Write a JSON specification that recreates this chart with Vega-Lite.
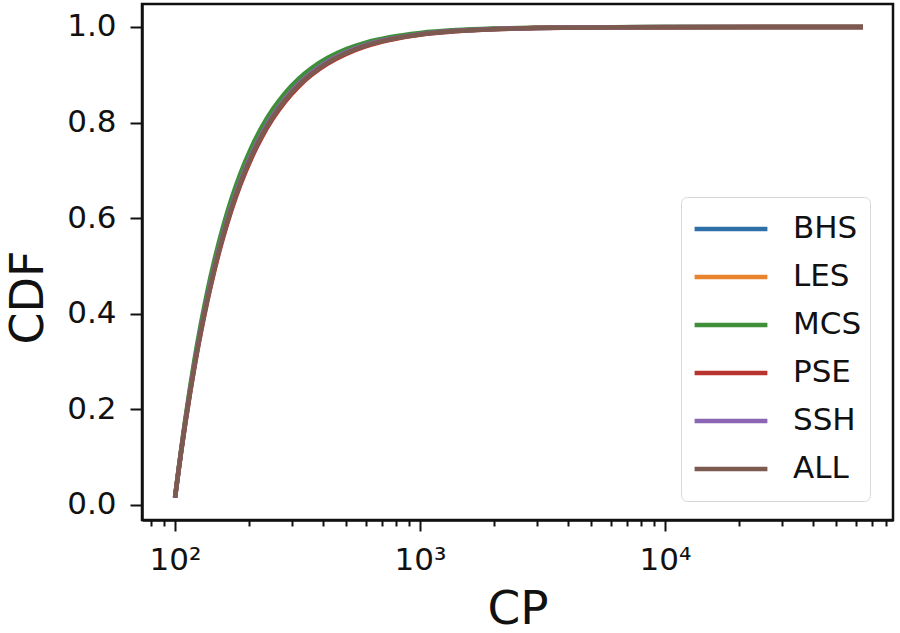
{
  "$schema": "https://vega.github.io/schema/vega-lite/v6.json",
  "width": 751,
  "height": 516,
  "autosize": {"type": "none"},
  "padding": {"left": 142, "top": 4, "right": 7, "bottom": 113},
  "background": "white",
  "config": {"view": {"stroke": "#111", "strokeWidth": 2.5}, "font": "DejaVu Sans"},
  "data": {"values": [
    {"cp": 100, "BHS": 0.016, "LES": 0.016, "MCS": 0.017, "PSE": 0.015, "SSH": 0.015, "ALL": 0.015},
    {"cp": 103, "BHS": 0.0668, "LES": 0.0674, "MCS": 0.0688, "PSE": 0.0654, "SSH": 0.0666, "ALL": 0.066},
    {"cp": 106, "BHS": 0.1147, "LES": 0.1157, "MCS": 0.1183, "PSE": 0.1121, "SSH": 0.1141, "ALL": 0.1131},
    {"cp": 110, "BHS": 0.1727, "LES": 0.1742, "MCS": 0.1782, "PSE": 0.1687, "SSH": 0.1719, "ALL": 0.1703},
    {"cp": 115, "BHS": 0.2373, "LES": 0.2394, "MCS": 0.2447, "PSE": 0.232, "SSH": 0.2362, "ALL": 0.2341},
    {"cp": 120, "BHS": 0.2945, "LES": 0.297, "MCS": 0.3034, "PSE": 0.288, "SSH": 0.2932, "ALL": 0.2906},
    {"cp": 127, "BHS": 0.364, "LES": 0.367, "MCS": 0.3745, "PSE": 0.3563, "SSH": 0.3625, "ALL": 0.3594},
    {"cp": 135, "BHS": 0.4312, "LES": 0.4346, "MCS": 0.4431, "PSE": 0.4226, "SSH": 0.4295, "ALL": 0.4261},
    {"cp": 145, "BHS": 0.501, "LES": 0.5047, "MCS": 0.5138, "PSE": 0.4916, "SSH": 0.4991, "ALL": 0.4954},
    {"cp": 157, "BHS": 0.5686, "LES": 0.5725, "MCS": 0.582, "PSE": 0.5587, "SSH": 0.5666, "ALL": 0.5627},
    {"cp": 170, "BHS": 0.627, "LES": 0.6309, "MCS": 0.6406, "PSE": 0.617, "SSH": 0.625, "ALL": 0.621},
    {"cp": 185, "BHS": 0.6805, "LES": 0.6844, "MCS": 0.6939, "PSE": 0.6705, "SSH": 0.6785, "ALL": 0.6745},
    {"cp": 205, "BHS": 0.7352, "LES": 0.7389, "MCS": 0.7481, "PSE": 0.7255, "SSH": 0.7333, "ALL": 0.7294},
    {"cp": 225, "BHS": 0.7767, "LES": 0.7803, "MCS": 0.789, "PSE": 0.7675, "SSH": 0.7749, "ALL": 0.7712},
    {"cp": 250, "BHS": 0.8158, "LES": 0.8192, "MCS": 0.8273, "PSE": 0.8072, "SSH": 0.8141, "ALL": 0.8107},
    {"cp": 280, "BHS": 0.8503, "LES": 0.8533, "MCS": 0.8607, "PSE": 0.8424, "SSH": 0.8487, "ALL": 0.8456},
    {"cp": 320, "BHS": 0.8828, "LES": 0.8855, "MCS": 0.8919, "PSE": 0.8757, "SSH": 0.8814, "ALL": 0.8786},
    {"cp": 360, "BHS": 0.9055, "LES": 0.9079, "MCS": 0.9136, "PSE": 0.8993, "SSH": 0.9043, "ALL": 0.9018},
    {"cp": 420, "BHS": 0.9287, "LES": 0.9308, "MCS": 0.9355, "PSE": 0.9234, "SSH": 0.9277, "ALL": 0.9256},
    {"cp": 500, "BHS": 0.9482, "LES": 0.9498, "MCS": 0.9537, "PSE": 0.9438, "SSH": 0.9473, "ALL": 0.9456},
    {"cp": 600, "BHS": 0.9629, "LES": 0.9643, "MCS": 0.9673, "PSE": 0.9595, "SSH": 0.9623, "ALL": 0.9609},
    {"cp": 750, "BHS": 0.9753, "LES": 0.9763, "MCS": 0.9786, "PSE": 0.9727, "SSH": 0.9748, "ALL": 0.9738},
    {"cp": 1000, "BHS": 0.9854, "LES": 0.9861, "MCS": 0.9876, "PSE": 0.9837, "SSH": 0.9851, "ALL": 0.9844},
    {"cp": 1400, "BHS": 0.9921, "LES": 0.9926, "MCS": 0.9935, "PSE": 0.991, "SSH": 0.9919, "ALL": 0.9915},
    {"cp": 2000, "BHS": 0.9959, "LES": 0.9961, "MCS": 0.9967, "PSE": 0.9952, "SSH": 0.9958, "ALL": 0.9955},
    {"cp": 3000, "BHS": 0.998, "LES": 0.9982, "MCS": 0.9985, "PSE": 0.9977, "SSH": 0.998, "ALL": 0.9978},
    {"cp": 5000, "BHS": 0.9992, "LES": 0.9993, "MCS": 0.9994, "PSE": 0.9991, "SSH": 0.9992, "ALL": 0.9991},
    {"cp": 10000, "BHS": 0.9998, "LES": 0.9998, "MCS": 0.9998, "PSE": 0.9997, "SSH": 0.9998, "ALL": 0.9997},
    {"cp": 64300, "BHS": 1, "LES": 1, "MCS": 1, "PSE": 1, "SSH": 1, "ALL": 1}
  ]},
  "transform": [{"fold": ["BHS", "LES", "MCS", "PSE", "SSH", "ALL"], "as": ["series", "cdf"]}],
  "mark": {"type": "line", "strokeWidth": 4.5, "interpolate": "monotone"},
  "encoding": {
    "x": {
      "field": "cp",
      "type": "quantitative",
      "scale": {"type": "log", "domain": [73.3, 85240], "nice": false},
      "axis": {
        "values": [80, 90, 100, 200, 300, 400, 500, 600, 700, 800, 900, 1000, 2000, 3000, 4000, 5000, 6000, 7000, 8000, 9000, 10000, 20000, 30000, 40000, 50000, 60000, 70000, 80000],
        "labelExpr": "datum.value == 100 ? '10²' : datum.value == 1000 ? '10³' : datum.value == 10000 ? '10⁴' : ''",
        "tickSize": {"condition": {"test": "datum.value == 100 || datum.value == 1000 || datum.value == 10000", "value": 11}, "value": 6},
        "tickWidth": 2,
        "tickColor": "#111",
        "domainColor": "#111",
        "domainWidth": 2.5,
        "grid": false,
        "labelFontSize": 31,
        "labelColor": "#111",
        "labelBaseline": "alphabetic",
        "labelPadding": 38,
        "labelOverlap": false,
        "labelFlush": false,
        "title": "CP",
        "titleFontSize": 47,
        "titleFontWeight": "normal",
        "titleColor": "#111",
        "titleBaseline": "alphabetic",
        "titleX": 375.5,
        "titleY": 103
      }
    },
    "y": {
      "field": "cdf",
      "type": "quantitative",
      "scale": {"domain": [-0.0314, 1.0481], "nice": false, "zero": false},
      "axis": {
        "values": [0, 0.2, 0.4, 0.6, 0.8, 1.0],
        "format": ".1f",
        "tickSize": 12,
        "tickWidth": 2,
        "tickColor": "#111",
        "domainColor": "#111",
        "domainWidth": 2.5,
        "grid": false,
        "labelFontSize": 31,
        "labelColor": "#111",
        "labelPadding": 14,
        "title": "CDF",
        "titleFontSize": 46,
        "titleFontWeight": "normal",
        "titleColor": "#111",
        "titleAngle": -90,
        "titleAlign": "center",
        "titleBaseline": "alphabetic",
        "titleX": -100,
        "titleY": 293
      }
    },
    "color": {
      "field": "series",
      "type": "nominal",
      "scale": {
        "domain": ["BHS", "LES", "MCS", "PSE", "SSH", "ALL"],
        "range": ["#2f6fa8", "#e8842e", "#3f8f3a", "#b8342f", "#8a66b5", "#7d5a50"]
      },
      "legend": {
        "orient": "none",
        "legendX": 539,
        "legendY": 193,
        "title": null,
        "symbolType": "stroke",
        "symbolSize": 5300,
        "symbolStrokeWidth": 4.5,
        "symbolOffset": 3,
        "labelFontSize": 31,
        "labelColor": "#111",
        "labelOffset": 23,
        "padding": 8,
        "rowPadding": 0,
        "clipHeight": 48,
        "fillColor": "white",
        "strokeColor": "#d8d8d8",
        "cornerRadius": 6
      }
    }
  }
}
